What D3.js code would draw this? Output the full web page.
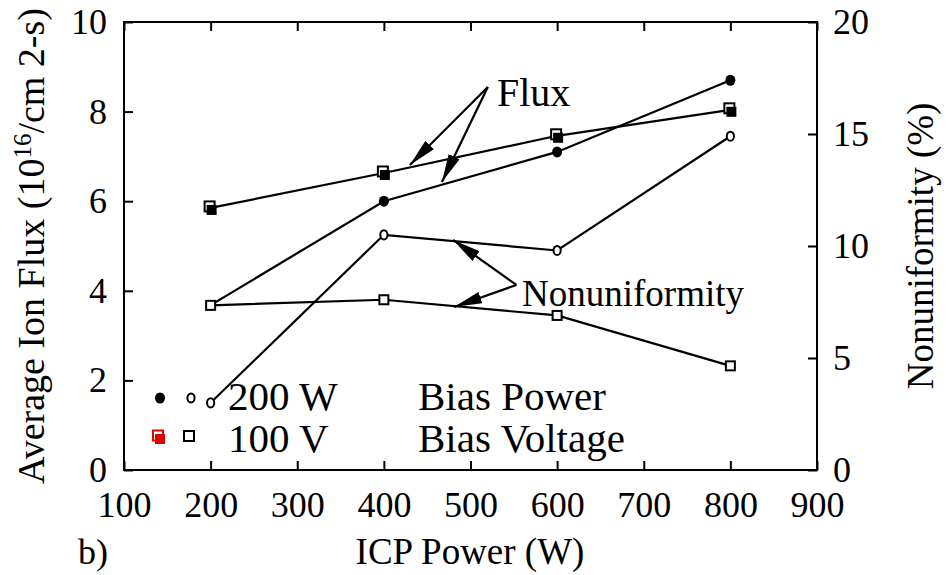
<!DOCTYPE html>
<html>
<head>
<meta charset="utf-8">
<script src="https://cdn.jsdelivr.net/npm/d3@7"></script>
<style>
  body { margin: 0; background: #fff; }
  svg text { font-family: "Liberation Serif", "Times New Roman", serif; fill: #000; }
</style>
</head>
<body>
<div id="chart"></div>
<script>
// ICP power (W)
const icpPower = [200, 400, 600, 800];
// Average ion flux (1e16 /cm2-s), left axis
const fluxBiasPower = [3.68, 6.0, 7.1, 8.7];
const fluxBiasVoltage = [5.85, 6.63, 7.46, 8.04];
// Nonuniformity (%), right axis
const nonuBiasPower = [3.0, 10.5, 9.8, 14.9];
const nonuBiasVoltage = [7.35, 7.6, 6.9, 4.65];

const xTicks = [100, 200, 300, 400, 500, 600, 700, 800, 900];
const yLeftTicks = [0, 2, 4, 6, 8, 10];
const yRightTicks = [0, 5, 10, 15, 20];

const width = 951, height = 575;
const margin = {top: 22, right: 134, bottom: 105, left: 124};

const svg = d3.select('#chart').append('svg')
  .attr('width', width)
  .attr('height', height);

const x = d3.scaleLinear().domain([100, 900]).range([margin.left, width - margin.right]);
const yL = d3.scaleLinear().domain([0, 10]).range([height - margin.bottom, margin.top]);
const yR = d3.scaleLinear().domain([0, 20]).range([height - margin.bottom, margin.top]);

const fs = 36;       // tick labels
const fsTitle = 38;  // axis titles
const fsLegend = 41;

// frame
svg.append('rect')
  .attr('x', x(100)).attr('y', yL(10))
  .attr('width', x(900) - x(100)).attr('height', yL(0) - yL(10))
  .attr('fill', 'none').attr('stroke', '#000').attr('stroke-width', 2);

// axes (ticks inward)
function styleAxis(g) {
  g.select('.domain').remove();
  g.selectAll('line').attr('stroke', '#000').attr('stroke-width', 2);
  g.selectAll('text').attr('font-size', fs);
}

svg.append('g')
  .attr('transform', `translate(0,${yL(0)})`)
  .call(d3.axisBottom(x).tickValues(xTicks).tickSizeInner(-9).tickSizeOuter(0).tickPadding(21))
  .call(styleAxis);

svg.append('g')
  .attr('transform', `translate(0,${yL(10)})`)
  .call(d3.axisTop(x).tickValues(xTicks).tickSizeInner(-9).tickSizeOuter(0).tickFormat(''))
  .call(styleAxis);

svg.append('g')
  .attr('transform', `translate(${x(100)},0)`)
  .call(d3.axisLeft(yL).tickValues(yLeftTicks).tickSizeInner(-9).tickSizeOuter(0).tickPadding(17))
  .call(styleAxis);

svg.append('g')
  .attr('transform', `translate(${x(900)},0)`)
  .call(d3.axisRight(yR).tickValues(yRightTicks).tickSizeInner(-9).tickSizeOuter(0).tickPadding(16))
  .call(styleAxis);

// lines
const lineL = d3.line().x((d, i) => x(icpPower[i])).y(d => yL(d));
const lineR = d3.line().x((d, i) => x(icpPower[i])).y(d => yR(d));

[[fluxBiasPower, lineL], [fluxBiasVoltage, lineL], [nonuBiasPower, lineR], [nonuBiasVoltage, lineR]]
  .forEach(([vals, gen]) => {
    svg.append('path').attr('d', gen(vals))
      .attr('fill', 'none').attr('stroke', '#000').attr('stroke-width', 2.2);
  });

// markers
function filledCircle(cx, cy, color) {
  svg.append('ellipse').attr('cx', cx).attr('cy', cy).attr('rx', 5).attr('ry', 5.5).attr('fill', color || '#000');
}
function hollowCircle(cx, cy) {
  svg.append('ellipse').attr('cx', cx).attr('cy', cy).attr('rx', 3.6).attr('ry', 4.6)
    .attr('fill', '#fff').attr('stroke', '#000').attr('stroke-width', 2);
}
function hollowSquare(cx, cy, s, color) {
  svg.append('rect').attr('x', cx - s / 2).attr('y', cy - s / 2).attr('width', s).attr('height', s)
    .attr('fill', '#fff').attr('stroke', color || '#000').attr('stroke-width', 2);
}
function filledSquare(cx, cy, color) {
  hollowSquare(cx - 1, cy - 1.5, 10, color);
  svg.append('rect').attr('x', cx - 4).attr('y', cy - 3).attr('width', 10).attr('height', 10)
    .attr('fill', color || '#000');
}

icpPower.forEach((p, i) => {
  filledCircle(x(p), yL(fluxBiasPower[i]));
  filledSquare(x(p), yL(fluxBiasVoltage[i]));
  hollowCircle(x(p), yR(nonuBiasPower[i]));
  hollowSquare(x(p), yR(nonuBiasVoltage[i]), 9);
});

// annotation arrows: long narrow heads
svg.append('defs').append('marker')
  .attr('id', 'arrow')
  .attr('viewBox', '0 0 10 10')
  .attr('preserveAspectRatio', 'none')
  .attr('refX', 10).attr('refY', 5)
  .attr('markerWidth', 28).attr('markerHeight', 12)
  .attr('markerUnits', 'userSpaceOnUse')
  .attr('orient', 'auto')
  .append('path').attr('d', 'M0,0 L10,5 L0,10 z').attr('fill', '#000');

function arrow(x0, y0, x1, y1) {
  svg.append('line')
    .attr('x1', x0).attr('y1', y0).attr('x2', x1).attr('y2', y1)
    .attr('stroke', '#000').attr('stroke-width', 2.2)
    .attr('marker-end', 'url(#arrow)');
}

// Flux arrows (left-axis data coords)
arrow(x(520), yL(8.55), x(430), yL(6.81));
arrow(x(520), yL(8.55), x(467), yL(6.43));
// Nonuniformity arrows (right-axis data coords)
arrow(x(553), yR(8.26), x(480), yR(10.27));
arrow(x(553), yR(8.26), x(481), yR(7.28));

svg.append('text').attr('x', 497).attr('y', 106).attr('font-size', 40).text('Flux');
svg.append('text').attr('x', 522).attr('y', 306).attr('font-size', 37).text('Nonuniformity');

// legend
filledCircle(160, 398);
hollowCircle(191, 398);
svg.append('text').attr('x', 228).attr('y', 410).attr('font-size', fsLegend).text('200 W');
svg.append('text').attr('x', 418).attr('y', 410).attr('font-size', fsLegend).text('Bias Power');

filledSquare(159, 437, '#e00000');
hollowSquare(189, 436, 10);
svg.append('text').attr('x', 228).attr('y', 452).attr('font-size', fsLegend).text('100 V');
svg.append('text').attr('x', 418).attr('y', 452).attr('font-size', fsLegend).text('Bias Voltage');

// axis titles
svg.append('text').attr('x', 470).attr('y', 564).attr('text-anchor', 'middle').attr('font-size', 37)
  .text('ICP Power (W)');
svg.append('text').attr('x', 78).attr('y', 564).attr('font-size', fs).text('b)');

const yl = svg.append('text')
  .attr('transform', `translate(44,${(yL(0) + yL(10)) / 2}) rotate(-90)`)
  .attr('text-anchor', 'middle').attr('font-size', fsTitle);
yl.append('tspan').text('Average Ion Flux (10');
yl.append('tspan').attr('font-size', 25).attr('dy', -13).text('16');
yl.append('tspan').attr('dy', 13).text('/cm 2-s)');

svg.append('text')
  .attr('transform', `translate(933,${(yL(0) + yL(10)) / 2}) rotate(-90)`)
  .attr('text-anchor', 'middle').attr('font-size', 37)
  .text('Nonuniformity (%)');
</script>
</body>
</html>
